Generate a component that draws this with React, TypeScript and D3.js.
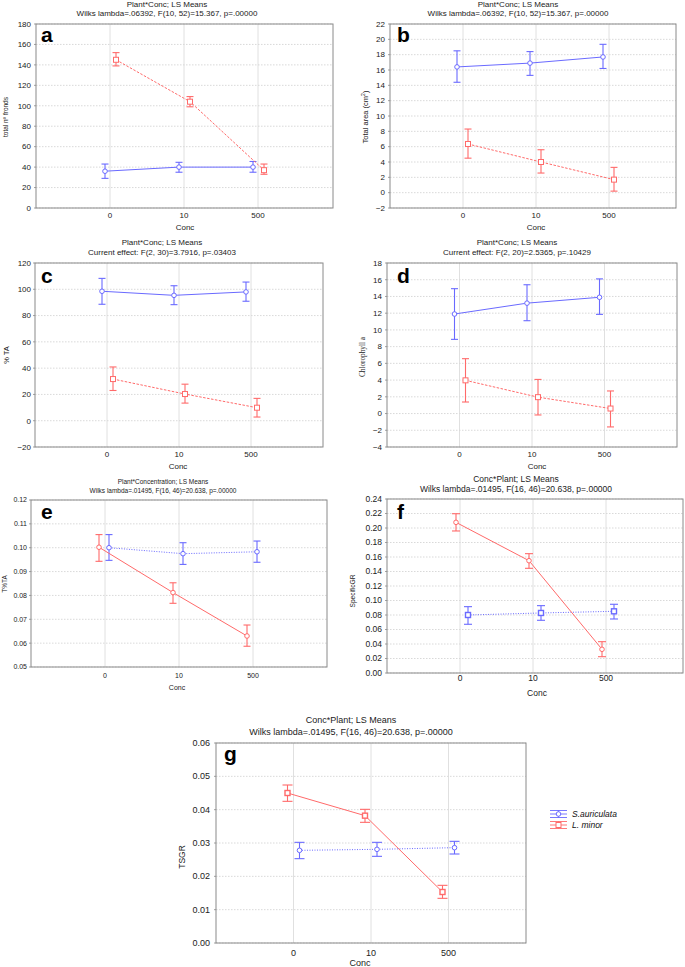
import React from "react";
import * as d3 from "d3";

const categories = ["0", "10", "500"];

// Panel a: total nº fronds
const aSaurMean = [36, 40, 40];
const aSaurLow = [29, 35, 35];
const aSaurHigh = [43, 44.7, 45.5];
const aMinorMean = [145, 104, 37];
const aMinorLow = [139, 99, 33];
const aMinorHigh = [152, 109, 43];
const aTicks = [0, 20, 40, 60, 80, 100, 120, 140, 160, 180];

// Panel b: total area
const bSaurMean = [16.4, 16.9, 17.7];
const bSaurLow = [14.4, 15.3, 16.2];
const bSaurHigh = [18.5, 18.4, 19.35];
const bMinorMean = [6.35, 4.0, 1.7];
const bMinorLow = [4.5, 2.56, 0.2];
const bMinorHigh = [8.3, 5.6, 3.3];
const bTicks = [-2, 0, 2, 4, 6, 8, 10, 12, 14, 16, 18, 20, 22];

// Panel c: % TA
const cSaurMean = [98.5, 95.4, 98];
const cSaurLow = [88.6, 88.3, 90.9];
const cSaurHigh = [108.3, 102.7, 105.5];
const cMinorMean = [31.7, 20.3, 9.9];
const cMinorLow = [23.0, 13.4, 2.8];
const cMinorHigh = [40.9, 27.8, 17.0];
const cTicks = [-20, 0, 20, 40, 60, 80, 100, 120];

// Panel d: chlorophyll a
const dSaurMean = [11.9, 13.2, 13.9];
const dSaurLow = [8.87, 11.1, 11.86];
const dSaurHigh = [14.93, 15.4, 16.1];
const dMinorMean = [3.97, 1.96, 0.6];
const dMinorLow = [1.38, -0.17, -1.6];
const dMinorHigh = [6.56, 4.08, 2.7];
const dTicks = [-4, -2, 0, 2, 4, 6, 8, 10, 12, 14, 16, 18];

// Panel e: T%TA
const eSaurMean = [0.1, 0.0975, 0.0983];
const eSaurLow = [0.0947, 0.093, 0.0939];
const eSaurHigh = [0.1055, 0.1021, 0.1028];
const eMinorMean = [0.1002, 0.0812, 0.063];
const eMinorLow = [0.0943, 0.0767, 0.0587];
const eMinorHigh = [0.1055, 0.0853, 0.0676];
const eTicks = [0.05, 0.06, 0.07, 0.08, 0.09, 0.1, 0.11, 0.12];

// Panel f: SpecificGR
const fSaurMean = [0.08, 0.0828, 0.0851];
const fSaurLow = [0.0672, 0.0727, 0.0745];
const fSaurHigh = [0.0915, 0.0929, 0.0948];
const fMinorMean = [0.2078, 0.1549, 0.0327];
const fMinorLow = [0.1959, 0.1444, 0.0225];
const fMinorHigh = [0.2197, 0.1646, 0.0432];
const fTicks = [0, 0.02, 0.04, 0.06, 0.08, 0.1, 0.12, 0.14, 0.16, 0.18, 0.2, 0.22, 0.24];

// Panel g: TSGR
const gSaurMean = [0.0278, 0.0281, 0.0286];
const gSaurLow = [0.0253, 0.026, 0.0267];
const gSaurHigh = [0.0302, 0.0302, 0.0305];
const gMinorMean = [0.045, 0.0382, 0.0153];
const gMinorLow = [0.0425, 0.0362, 0.0134];
const gMinorHigh = [0.0474, 0.0401, 0.0173];
const gTicks = [0, 0.01, 0.02, 0.03, 0.04, 0.05, 0.06];

const legendNames = ["S.auriculata", "L. minor"];

const BLUE = "#6a6aff";
const RED = "#ff6a6a";
const FONT = "'Liberation Sans', Arial, sans-serif";

type Series = {
  mean: number[];
  low: number[];
  high: number[];
  color: string;
  dash?: string;
  marker: "circle" | "square";
  offset: number;
  markerStroke?: number;
};

type Panel = {
  letter: string;
  letterX: number;
  letterY: number;
  title1: string;
  title2: string;
  titleX: number;
  titleY1: number;
  titleY2: number;
  titleSize: number;
  left: number;
  right: number;
  top: number;
  bottom: number;
  step: number;
  yDomain: [number, number];
  yTicks: number[];
  fmt: (v: number) => string;
  tickSize: number;
  tickLabelX: number;
  tickLabelY: number;
  xLabelY: number;
  xLabelX: number;
  yLabel: React.ReactNode;
  yLabelX: number;
  yLabelY: number;
  yLabelSize: number;
  yLabelFont?: string;
  yLabelLen?: number;
  capHalf: number;
  series: Series[];
};

const f0 = (v: number) => d3.format("d")(v);
const f2 = (v: number) => d3.format(".2f")(v);

const panels: Panel[] = [
  {
    letter: "a", letterX: 41, letterY: 42,
    title1: "Plant*Conc; LS Means",
    title2: "Wilks lambda=.06392, F(10, 52)=15.367, p=.00000",
    titleX: 167, titleY1: 7, titleY2: 16, titleSize: 8,
    left: 36, right: 333, top: 24, bottom: 208, step: 74,
    yDomain: [0, 180], yTicks: aTicks, fmt: f0, tickSize: 8,
    tickLabelX: 31, tickLabelY: 218, xLabelY: 230, xLabelX: 185,
    yLabel: "total nº fronds", yLabelX: 8, yLabelY: 117, yLabelSize: 7, yLabelLen: 40,
    capHalf: 3.5,
    series: [
      { mean: aSaurMean, low: aSaurLow, high: aSaurHigh, color: BLUE, marker: "circle", offset: -5 },
      { mean: aMinorMean, low: aMinorLow, high: aMinorHigh, color: RED, dash: "2.5,1.5", marker: "square", offset: 6 },
    ],
  },
  {
    letter: "b", letterX: 397, letterY: 42,
    title1: "Plant*Conc; LS Means",
    title2: "Wilks lambda=.06392, F(10, 52)=15.367, p=.00000",
    titleX: 518, titleY1: 7, titleY2: 16, titleSize: 8,
    left: 390, right: 676, top: 24, bottom: 208, step: 73,
    yDomain: [-2, 22], yTicks: bTicks, fmt: f0, tickSize: 8,
    tickLabelX: 385, tickLabelY: 218, xLabelY: 230, xLabelX: 536,
    yLabel: (
      <>
        Total area (cm<tspan dy={-3} fontSize={5}>2</tspan><tspan dy={3}>)</tspan>
      </>
    ),
    yLabelX: 368, yLabelY: 117, yLabelSize: 7.5,
    capHalf: 3.5,
    series: [
      { mean: bSaurMean, low: bSaurLow, high: bSaurHigh, color: BLUE, marker: "circle", offset: -6 },
      { mean: bMinorMean, low: bMinorLow, high: bMinorHigh, color: RED, dash: "2.5,1.5", marker: "square", offset: 5 },
    ],
  },
  {
    letter: "c", letterX: 41, letterY: 283,
    title1: "Plant*Conc; LS Means",
    title2: "Current effect: F(2, 30)=3.7916, p=.03403",
    titleX: 162, titleY1: 245, titleY2: 255, titleSize: 8,
    left: 35, right: 323, top: 263, bottom: 447, step: 72,
    yDomain: [-20, 120], yTicks: cTicks, fmt: f0, tickSize: 8,
    tickLabelX: 31, tickLabelY: 457, xLabelY: 469, xLabelX: 178,
    yLabel: "% TA", yLabelX: 9, yLabelY: 355, yLabelSize: 7.5,
    capHalf: 3.5,
    series: [
      { mean: cSaurMean, low: cSaurLow, high: cSaurHigh, color: BLUE, marker: "circle", offset: -5 },
      { mean: cMinorMean, low: cMinorLow, high: cMinorHigh, color: RED, dash: "2.5,1.5", marker: "square", offset: 6 },
    ],
  },
  {
    letter: "d", letterX: 397, letterY: 283,
    title1: "Plant*Conc; LS Means",
    title2: "Current effect: F(2, 20)=2.5365, p=.10429",
    titleX: 517, titleY1: 245, titleY2: 255, titleSize: 8,
    left: 387, right: 677, top: 263, bottom: 447, step: 72.5,
    yDomain: [-4, 18], yTicks: dTicks, fmt: f0, tickSize: 8,
    tickLabelX: 382, tickLabelY: 457, xLabelY: 469, xLabelX: 537,
    yLabel: "Chlorophyll a", yLabelX: 365, yLabelY: 357, yLabelSize: 8,
    yLabelFont: "'Liberation Serif', 'Times New Roman', serif", yLabelLen: 40,
    capHalf: 3.5,
    series: [
      { mean: dSaurMean, low: dSaurLow, high: dSaurHigh, color: BLUE, marker: "circle", offset: -5 },
      { mean: dMinorMean, low: dMinorLow, high: dMinorHigh, color: RED, dash: "2.5,1.5", marker: "square", offset: 6 },
    ],
  },
  {
    letter: "e", letterX: 41, letterY: 519,
    title1: "Plant*Concentration; LS Means",
    title2: "Wilks lambda=.01495, F(16, 46)=20.638, p=.00000",
    titleX: 163, titleY1: 483.5, titleY2: 492.5, titleSize: 6.5,
    left: 31, right: 327, top: 500, bottom: 667, step: 74,
    yDomain: [0.05, 0.12], yTicks: eTicks, fmt: f2, tickSize: 7,
    tickLabelX: 27, tickLabelY: 678, xLabelY: 690, xLabelX: 177,
    yLabel: "T%TA", yLabelX: 7, yLabelY: 584, yLabelSize: 6.5,
    capHalf: 3.5,
    series: [
      { mean: eSaurMean, low: eSaurLow, high: eSaurHigh, color: BLUE, dash: "1,1.5", marker: "circle", offset: 4 },
      { mean: eMinorMean, low: eMinorLow, high: eMinorHigh, color: RED, marker: "circle", offset: -6 },
    ],
  },
  {
    letter: "f", letterX: 397, letterY: 519,
    title1: "Conc*Plant; LS Means",
    title2: "Wilks lambda=.01495, F(16, 46)=20.638, p=.00000",
    titleX: 516, titleY1: 482, titleY2: 491.5, titleSize: 8.5,
    left: 387, right: 683, top: 499, bottom: 673, step: 73,
    yDomain: [0, 0.24], yTicks: fTicks, fmt: f2, tickSize: 8.5,
    tickLabelX: 382, tickLabelY: 681, xLabelY: 696, xLabelX: 537,
    yLabel: "SpecificGR", yLabelX: 355, yLabelY: 591, yLabelSize: 7.5, yLabelLen: 33,
    capHalf: 4,
    series: [
      { mean: fSaurMean, low: fSaurLow, high: fSaurHigh, color: BLUE, dash: "1,1.5", marker: "square", offset: 8, markerStroke: 1.4 },
      { mean: fMinorMean, low: fMinorLow, high: fMinorHigh, color: RED, marker: "circle", offset: -4 },
    ],
  },
  {
    letter: "g", letterX: 224, letterY: 761,
    title1: "Conc*Plant; LS Means",
    title2: "Wilks lambda=.01495, F(16, 46)=20.638, p=.00000",
    titleX: 351, titleY1: 723, titleY2: 734.5, titleSize: 9,
    left: 216, right: 526, top: 743, bottom: 943, step: 77.5,
    yDomain: [0, 0.06], yTicks: gTicks, fmt: f2, tickSize: 9,
    tickLabelX: 210, tickLabelY: 956, xLabelY: 966, xLabelX: 360,
    yLabel: "TSGR", yLabelX: 185, yLabelY: 857, yLabelSize: 8.5,
    capHalf: 5,
    series: [
      { mean: gSaurMean, low: gSaurLow, high: gSaurHigh, color: BLUE, dash: "1,1.5", marker: "circle", offset: 6 },
      { mean: gMinorMean, low: gMinorLow, high: gMinorHigh, color: RED, marker: "square", offset: -6, markerStroke: 1.4 },
    ],
  },
];

function Marker({ x, y, kind, color, sw }: { x: number; y: number; kind: string; color: string; sw?: number }) {
  if (kind === "square") {
    return <rect x={x - 2.5} y={y - 2.5} width={5} height={5} fill="white" stroke={color} strokeWidth={sw ?? 1} />;
  }
  return <circle cx={x} cy={y} r={2.3} fill="white" stroke={color} strokeWidth={sw ?? 1} />;
}

function PanelView({ p }: { p: Panel }) {
  const x = d3.scaleLinear().domain([-1, 3]).range([p.left, p.left + 4 * p.step]);
  const y = d3.scaleLinear().domain(p.yDomain).range([p.bottom, p.top]);
  const idx = categories.map((_, i) => i);
  return (
    <g fontFamily={FONT}>
      <text x={p.titleX} y={p.titleY1} fontSize={p.titleSize} textAnchor="middle" fill="#222">{p.title1}</text>
      <text x={p.titleX} y={p.titleY2} fontSize={p.titleSize} textAnchor="middle" fill="#222">{p.title2}</text>
      {/* horizontal grid */}
      {p.yTicks.map((t) => (
        <line key={"h" + t} x1={p.left} x2={p.right} y1={y(t)} y2={y(t)} stroke="#c8c8c8" strokeWidth={0.7} strokeDasharray="1.5,1.5" />
      ))}
      {/* vertical grid */}
      {idx.map((i) => (
        <line key={"v" + i} x1={x(i)} x2={x(i)} y1={p.top} y2={p.bottom} stroke="#d8d8d8" strokeWidth={0.8} />
      ))}
      {/* frame */}
      <rect x={p.left} y={p.top} width={p.right - p.left} height={p.bottom - p.top} fill="none" stroke="#8a8a8a" strokeWidth={1} />
      {/* y ticks */}
      {p.yTicks.map((t) => (
        <g key={"t" + t}>
          <line x1={p.left - 2} x2={p.left} y1={y(t)} y2={y(t)} stroke="#8a8a8a" strokeWidth={0.8} />
          <text x={p.tickLabelX} y={y(t)} dy="0.35em" fontSize={p.tickSize} textAnchor="end" fill="#222">{p.fmt(t)}</text>
        </g>
      ))}
      {/* x tick labels */}
      {categories.map((c, i) => (
        <text key={"x" + c} x={x(i)} y={p.tickLabelY} fontSize={p.tickSize} textAnchor="middle" fill="#222">{c}</text>
      ))}
      <text x={p.xLabelX} y={p.xLabelY} fontSize={p.tickSize} textAnchor="middle" fill="#222">Conc</text>
      <text
        transform={`translate(${p.yLabelX},${p.yLabelY}) rotate(-90)`}
        fontSize={p.yLabelSize}
        textAnchor="middle"
        fontFamily={p.yLabelFont ?? FONT}
        textLength={p.yLabelLen}
        lengthAdjust={p.yLabelLen ? "spacingAndGlyphs" : undefined}
        fill="#222"
      >
        {p.yLabel}
      </text>
      {/* series */}
      {p.series.map((s, si) => {
        const line = d3
          .line<number>()
          .x((_, i) => x(i) + s.offset)
          .y((v) => y(v));
        return (
          <g key={"s" + si}>
            <path d={line(s.mean) ?? ""} fill="none" stroke={s.color} strokeWidth={1} strokeDasharray={s.dash} />
            {s.mean.map((m, i) => {
              const cx = x(i) + s.offset;
              return (
                <g key={i} stroke={s.color} strokeWidth={1.1}>
                  <line x1={cx} x2={cx} y1={y(s.low[i])} y2={y(s.high[i])} />
                  <line x1={cx - p.capHalf} x2={cx + p.capHalf} y1={y(s.low[i])} y2={y(s.low[i])} />
                  <line x1={cx - p.capHalf} x2={cx + p.capHalf} y1={y(s.high[i])} y2={y(s.high[i])} />
                  <Marker x={cx} y={y(m)} kind={s.marker} color={s.color} sw={s.markerStroke} />
                </g>
              );
            })}
          </g>
        );
      })}
      <text x={p.letterX} y={p.letterY} fontSize={21} fontWeight="bold" fill="#000">{p.letter}</text>
    </g>
  );
}

function Legend() {
  const rows = [
    { name: legendNames[0], color: BLUE, marker: "circle", y: 814 },
    { name: legendNames[1], color: RED, marker: "square", y: 825 },
  ];
  return (
    <g fontFamily={FONT}>
      {rows.map((r) => (
        <g key={r.name}>
          <g stroke={r.color} strokeWidth={0.9}>
            <line x1={550} x2={567} y1={r.y - 3.5} y2={r.y - 3.5} />
            <line x1={550} x2={567} y1={r.y} y2={r.y} />
            <line x1={550} x2={567} y1={r.y + 3.5} y2={r.y + 3.5} />
            <line x1={558.5} x2={558.5} y1={r.y - 3.5} y2={r.y + 3.5} />
          </g>
          <Marker x={558.5} y={r.y} kind={r.marker} color={r.color} />
          <text x={572} y={r.y} dy="0.35em" fontSize={8.5} fontStyle="italic" fill="#111">{r.name}</text>
        </g>
      ))}
    </g>
  );
}

export default function App() {
  return (
    <svg
      width={685}
      height={967}
      viewBox="0 0 685 967"
      style={{ position: "absolute", left: 0, top: 0, background: "white" }}
    >
      <rect width={685} height={967} fill="white" />
      {panels.map((p) => (
        <PanelView key={p.letter} p={p} />
      ))}
      <Legend />
    </svg>
  );
}
